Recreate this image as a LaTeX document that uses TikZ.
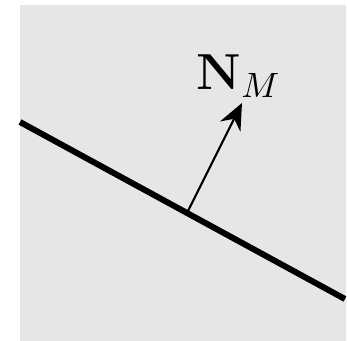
\documentclass[tikz,border=0pt]{standalone}
\usepackage{tikz}
\usetikzlibrary{arrows.meta, positioning, calc}
\definecolor{planegray}{HTML}{E6E6E6}

\begin{document}
\begin{tikzpicture}[
      x=0.01cm, y=-0.01cm,
      surface/.style={line width=1.7pt},
      normal/.style={line width=0.6pt, -{Stealth[length=7.5pt, width=6.5pt, inset=2.5pt]}},
      >=Latex
    ]
      \useasboundingbox (0,0) rectangle (347,341);
      \fill[planegray] (20,5) rectangle (346,341);
      \coordinate (left) at (20,122);
      \coordinate (right) at (345,299);
      \coordinate (foot) at (188,211);
      \coordinate (tip) at (242,103);
      \node[font=\fontsize{14}{16}\selectfont] (label) at (239,76) {$\mathbf{N}_M$};
      \draw[surface] (left) -- (right);
      \draw[normal] (foot) -- (tip);
    \end{tikzpicture}
\end{document}
